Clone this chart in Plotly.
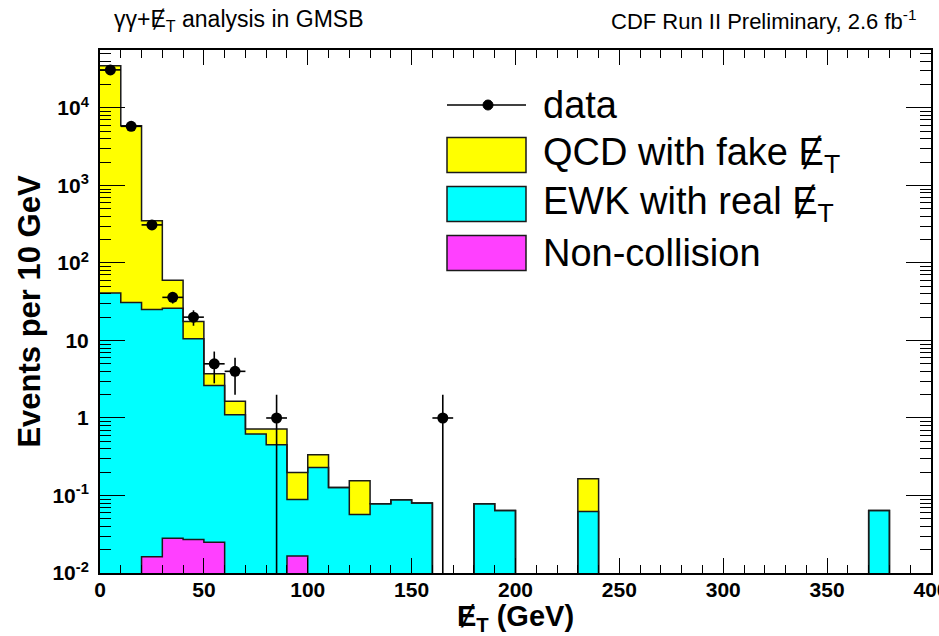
import plotly.graph_objects as go

# ---------------- data ----------------
bin_edges = list(range(0, 410, 10))          # MET bins, GeV
bin_centers = [e + 5 for e in bin_edges[:-1]]

# stacked components, events per 10 GeV (40 bins, 0-400 GeV)
noncoll = [0, 0, 0.0162, 0.028, 0.027, 0.025, 0, 0, 0, 0.0166,
           0, 0, 0, 0, 0, 0, 0, 0, 0, 0,
           0, 0, 0, 0, 0, 0, 0, 0, 0, 0,
           0, 0, 0, 0, 0, 0, 0, 0, 0, 0]
ewk = [41, 31, 25, 26, 10.5, 2.6, 1.1, 0.62, 0.45, 0.072,
       0.23, 0.127, 0.057, 0.078, 0.088, 0.08, 0, 0, 0.078, 0.064,
       0, 0, 0, 0.062, 0, 0, 0, 0, 0, 0,
       0, 0, 0, 0, 0, 0, 0, 0.064, 0, 0]
qcd = [34960, 5870, 325, 34, 7, 1.1, 0.55, 0.1, 0.27, 0.11,
       0.105, 0, 0.098, 0, 0, 0, 0, 0, 0, 0,
       0, 0, 0, 0.103, 0, 0, 0, 0, 0, 0,
       0, 0, 0, 0, 0, 0, 0, 0, 0, 0]

data_x = [5, 15, 25, 35, 45, 55, 65, 85, 165]
data_y = [31000, 5800, 310, 36, 20, 5, 4, 1, 1]
data_err = [176, 76, 17.6, 6, 4.5, 2.2, 2, 1, 1]

y_tick_exp = [-2, -1, 0, 1, 2, 3, 4]
y_tick_text = ["10<sup>-2</sup>", "10<sup>-1</sup>", "1", "10",
               "10<sup>2</sup>", "10<sup>3</sup>", "10<sup>4</sup>"]

MET = "\u0246"   # slashed E (missing transverse energy)

# ---------------- stacking ----------------
s1 = list(noncoll)
s2 = [a + b for a, b in zip(s1, ewk)]
s3 = [a + b for a, b in zip(s2, qcd)]

YELLOW = "#ffff00"
CYAN = "#00ffff"
MAGENTA = "#ff40ff"
EDGE = "#1a1a1a"
FONT = "Liberation Sans"
FLOOR = 1e-3

fig = go.Figure()

for vals, col in [(s3, YELLOW), (s2, CYAN), (s1, MAGENTA)]:
    fig.add_trace(go.Bar(
        x=bin_centers, y=[v if v > 0 else None for v in vals], width=10,
        marker=dict(color=col, line=dict(width=0)), showlegend=False,
        hoverinfo="skip"))

for vals in [s3, s2, s1]:
    ys = [v if v > 0 else FLOOR for v in vals]
    fig.add_trace(go.Scatter(
        x=bin_edges, y=ys + [ys[-1]], mode="lines", line_shape="hv",
        line=dict(color=EDGE, width=1.5), showlegend=False, hoverinfo="skip"))

fig.add_trace(go.Scatter(
    x=data_x, y=data_y, mode="markers",
    marker=dict(color="black", size=11),
    error_y=dict(type="data", array=data_err,
                 arrayminus=[min(e, v * 0.999) for e, v in zip(data_err, data_y)],
                 color="black", thickness=1.6, width=0),
    error_x=dict(type="constant", value=5, color="black", thickness=1.6, width=0),
    showlegend=False))

# ---------------- layout ----------------
L, R, T, B = 100, 8, 50, 63
W, H = 939, 636
PW, PH = W - L - R, H - T - B


def px(x):
    return (x - L) / PW


def py(y):
    return (H - B - y) / PH


minor_y = [m * 10 ** k for k in range(-2, 5) for m in range(2, 10)]

fig.update_layout(
    width=W, height=H,
    margin=dict(l=L, r=R, t=T, b=B, pad=0, autoexpand=False),
    paper_bgcolor="white", plot_bgcolor="white",
    barmode="overlay", bargap=0,
    font=dict(family=FONT, color="black"),
    xaxis=dict(
        range=[0, 400], dtick=50, tick0=0, automargin=False,
        ticks="inside", ticklen=15, tickwidth=1.2, tickcolor="black",
        minor=dict(dtick=10, ticks="inside", ticklen=8, tickwidth=1.2, tickcolor="black"),
        showline=True, linecolor="black", linewidth=2, mirror="allticks",
        showgrid=False, zeroline=False,
        tickfont=dict(family=FONT, size=21, weight="bold"),
        ticklabelstandoff=-3, ticklabeloverflow="allow",
        title=dict(text=MET + "<sub>T</sub> (GeV)",
                   font=dict(family=FONT, size=29, weight="bold"), standoff=1),
    ),
    yaxis=dict(
        type="log", range=[-2, 4.748], automargin=False,
        tickvals=[10 ** e for e in y_tick_exp], ticktext=y_tick_text,
        ticks="inside", ticklen=25, tickwidth=1.2, tickcolor="black",
        minor=dict(tickvals=minor_y, ticks="inside", ticklen=11, tickwidth=1.2,
                   tickcolor="black"),
        showline=True, linecolor="black", linewidth=2, mirror="allticks",
        showgrid=False, zeroline=False,
        tickfont=dict(family=FONT, size=21, weight="bold"),
        ticklabelstandoff=5,
        title=dict(text="Events per 10 GeV",
                   font=dict(family=FONT, size=31, weight="bold"), standoff=3),
    ),
)

# header texts
fig.add_annotation(xref="paper", yref="paper", x=px(112), y=py(20),
                   xanchor="left", yanchor="middle", showarrow=False,
                   text="\u03b3\u03b3+" + MET + "<sub>T</sub> analysis in GMSB",
                   font=dict(family=FONT, size=23, color="black"))
fig.add_annotation(xref="paper", yref="paper", x=px(918), y=py(20),
                   xanchor="right", yanchor="middle", showarrow=False,
                   text="CDF Run II Preliminary, 2.6 fb<sup>-1</sup>",
                   font=dict(family=FONT, size=22, color="black"))

# manual ROOT-style legend
leg_entries = [
    ("data", None, 105),
    ("QCD with fake " + MET + "<sub>T</sub>", YELLOW, 155),
    ("EWK with real " + MET + "<sub>T</sub>", CYAN, 204),
    ("Non-collision", MAGENTA, 253),
]
bx0, bx1 = 447, 526
for label, col, yc in leg_entries:
    if col is None:
        fig.add_shape(type="line", xref="paper", yref="paper",
                      x0=px(bx0), x1=px(bx1), y0=py(yc), y1=py(yc),
                      line=dict(color="black", width=1.6))
        fig.add_shape(type="circle", xref="paper", yref="paper",
                      x0=px(483), x1=px(493), y0=py(yc - 5), y1=py(yc + 5),
                      fillcolor="black", line=dict(color="black", width=1))
    else:
        fig.add_shape(type="rect", xref="paper", yref="paper",
                      x0=px(bx0), x1=px(bx1), y0=py(yc - 17.5), y1=py(yc + 17.5),
                      fillcolor=col, line=dict(color=EDGE, width=1.5))
    fig.add_annotation(xref="paper", yref="paper", x=px(541), y=py(yc),
                       xanchor="left", yanchor="middle", showarrow=False,
                       text=label, font=dict(family=FONT, size=38, color="black"))

fig.write_html("out.html", config={"displayModeBar": False},
               post_script="document.body.style.margin='0';"
                           "document.body.style.overflow='hidden';")
